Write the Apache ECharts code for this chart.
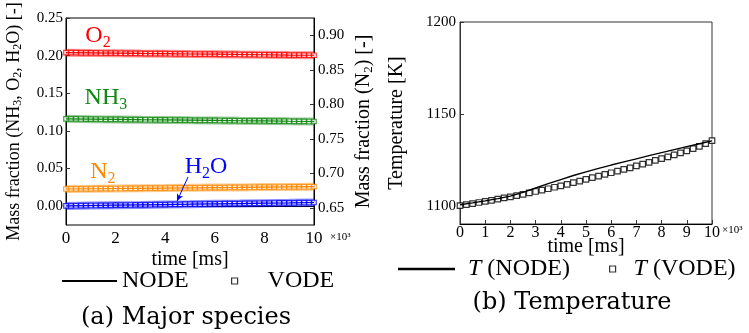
<!DOCTYPE html>
<html><head><meta charset="utf-8">
<script src="https://cdn.jsdelivr.net/npm/echarts@6/dist/echarts.min.js"></script>
<style>html,body{margin:0;padding:0;background:#fff}#c{width:749px;height:333px}</style>
</head><body><div id="c"></div>
<script>
// ---- data ----
const speciesTime = [0,0.2,0.4,0.6,0.8,1,1.2,1.4,1.6,1.8,2,2.2,2.4,2.6,2.8,3,3.2,3.4,3.6,3.8,4,4.2,4.4,4.6,4.8,5,5.2,5.4,5.6,5.8,6,6.2,6.4,6.6,6.8,7,7.2,7.4,7.6,7.8,8,8.2,8.4,8.6,8.8,9,9.2,9.4,9.6,9.8,10];
const nodeTime = [0,1,2,3,4,5,6,7,8,9,10];
const O2_VODE = [0.2040,0.2039,0.2039,0.2038,0.2037,0.2036,0.2036,0.2035,0.2034,0.2033,0.2033,0.2032,0.2031,0.2031,0.2030,0.2029,0.2028,0.2028,0.2027,0.2026,0.2026,0.2025,0.2024,0.2024,0.2023,0.2022,0.2021,0.2021,0.2020,0.2019,0.2019,0.2018,0.2017,0.2017,0.2016,0.2015,0.2014,0.2014,0.2013,0.2012,0.2012,0.2011,0.2010,0.2010,0.2009,0.2008,0.2007,0.2007,0.2006,0.2005,0.2005];
const NH3_VODE = [0.1160,0.1159,0.1159,0.1158,0.1157,0.1156,0.1156,0.1155,0.1154,0.1153,0.1153,0.1152,0.1151,0.1151,0.1150,0.1149,0.1148,0.1148,0.1147,0.1146,0.1146,0.1145,0.1144,0.1144,0.1143,0.1142,0.1141,0.1141,0.1140,0.1139,0.1139,0.1138,0.1137,0.1137,0.1136,0.1135,0.1134,0.1134,0.1133,0.1132,0.1132,0.1131,0.1130,0.1130,0.1129,0.1128,0.1127,0.1127,0.1126,0.1125,0.1125];
const N2_VODE = [0.6772,0.6773,0.6773,0.6774,0.6775,0.6775,0.6776,0.6777,0.6777,0.6778,0.6779,0.6779,0.6780,0.6781,0.6781,0.6782,0.6783,0.6783,0.6784,0.6785,0.6785,0.6786,0.6787,0.6787,0.6788,0.6789,0.6789,0.6790,0.6791,0.6791,0.6792,0.6793,0.6793,0.6794,0.6795,0.6795,0.6796,0.6797,0.6797,0.6798,0.6799,0.6799,0.6800,0.6801,0.6801,0.6802,0.6803,0.6803,0.6804,0.6804,0.6805];
const H2O_VODE = [0.0004,0.0005,0.0006,0.0007,0.0008,0.0009,0.0009,0.0010,0.0011,0.0012,0.0013,0.0014,0.0015,0.0016,0.0017,0.0017,0.0018,0.0019,0.0020,0.0021,0.0022,0.0023,0.0024,0.0025,0.0026,0.0026,0.0027,0.0028,0.0029,0.0030,0.0031,0.0032,0.0033,0.0034,0.0034,0.0035,0.0036,0.0037,0.0038,0.0039,0.0040,0.0041,0.0042,0.0043,0.0043,0.0044,0.0045,0.0046,0.0047,0.0048,0.0049];
const O2_NODE = [0.2040,0.2036,0.2033,0.2029,0.2026,0.2022,0.2019,0.2015,0.2012,0.2008,0.2005];
const NH3_NODE = [0.1160,0.1156,0.1153,0.1149,0.1146,0.1142,0.1139,0.1135,0.1132,0.1128,0.1125];
const N2_NODE = [0.6772,0.6775,0.6779,0.6782,0.6785,0.6789,0.6792,0.6795,0.6799,0.6802,0.6805];
const H2O_NODE = [0.0004,0.0009,0.0013,0.0017,0.0022,0.0026,0.0031,0.0035,0.0040,0.0044,0.0049];

const tempTimeVODE = [0,0.25,0.5,0.75,1,1.25,1.5,1.75,2,2.25,2.5,2.75,3,3.25,3.5,3.75,4,4.25,4.5,4.75,5,5.25,5.5,5.75,6,6.25,6.5,6.75,7,7.25,7.5,7.75,8,8.25,8.5,8.75,9,9.25,9.5,9.75,10];
const T_VODE = [1100.0,1100.5,1101.1,1101.7,1102.3,1102.9,1103.5,1104.2,1104.8,1105.4,1106.1,1106.9,1107.7,1108.4,1109.2,1110.0,1110.8,1111.6,1112.5,1113.4,1114.3,1115.2,1116.1,1117.0,1117.9,1118.8,1119.7,1120.6,1121.6,1122.6,1123.6,1124.6,1125.6,1126.6,1127.6,1128.7,1129.8,1131.0,1132.3,1133.8,1135.4];
const tempTimeNODE = [0,0.5,1,1.5,2,2.5,3,3.5,4,4.5,5,5.5,6,6.5,7,7.5,8,8.5,9,9.5,10];
const T_NODE = [1100.5,1101.5,1102.6,1103.8,1105.2,1107.2,1109.6,1112.0,1114.2,1116.4,1118.4,1120.3,1122.1,1123.8,1125.5,1127.2,1128.9,1130.5,1132.1,1133.7,1135.3];

// tick labels
const leftTicks = [0,0.05,0.10,0.15,0.20,0.25];
const rightTicks = [0.65,0.70,0.75,0.80,0.85,0.90];
const tempTicks = [1100,1150,1200];
const timeTicksA = [0,2,4,6,8,10];
const timeTicksB = [0,1,2,3,4,5,6,7,8,9,10];

const speciesLabels = [
  {key:'O2', text:'{n|O}{s|2}', axis:0, at:[1.29,0.2261]},
  {key:'NH3', text:'{n|NH}{s|3}', axis:0, at:[1.61,0.1437]},
  {key:'N2', text:'{n|N}{s|2}', axis:1, at:[1.49,0.7018]},
  {key:'H2O', text:'{n|H}{s|2}{n|O}', axis:0, at:[5.65,0.0521]}
];

const colors = {O2:'#ff0000', NH3:'#118811', N2:'#ff8800', H2O:'#0000ff'};

// ---- helpers ----
const pair = (xs, ys) => xs.map((x,i)=>[x, ys[i]]);
const FONT = 'Liberation Serif';
const subRichFill = (size, color) => ({
  n:{fontSize:size, fill:color, fontFamily:FONT},
  s:{fontSize:Math.round(size*0.68), fill:color, fontFamily:FONT, padding:[Math.round(size*0.55),0,0,0]}
});

function speciesSeries(key, nodeY, vodeY, yIdx, extra){
  const c = colors[key];
  const arr = [];
  arr.push({type:'line', name:'NODE', xAxisIndex:0, yAxisIndex:yIdx, data:pair(nodeTime,nodeY),
    symbol:'none', lineStyle:{color:c, width:1.2}, itemStyle:{color:c}, z:4, silent:true, animation:false});
  const sc = {type:'scatter', name:'VODE', xAxisIndex:0, yAxisIndex:yIdx, data:pair(speciesTime,vodeY),
    symbol:'rect', symbolSize:4.5, itemStyle:{color:'#fff', borderColor:c, borderWidth:1.2}, z:3, silent:true, animation:false};
  if (extra) Object.assign(sc, extra);
  arr.push(sc);
  arr.push({type:'line', name:'NODE', xAxisIndex:0, yAxisIndex:yIdx, data:pair(nodeTime,nodeY),
    symbol:'none', lineStyle:{color:c, width:8, opacity:0.45}, z:2, silent:true, animation:false});
  return arr;
}

const series = [].concat(
  speciesSeries('O2', O2_NODE, O2_VODE, 0),
  speciesSeries('NH3', NH3_NODE, NH3_VODE, 0),
  speciesSeries('N2', N2_NODE, N2_VODE, 1),
  speciesSeries('H2O', H2O_NODE, H2O_VODE, 0, {
    markLine:{silent:true, animation:false, symbol:['none','arrow'], symbolSize:[5,7],
      lineStyle:{color:colors.H2O, width:1, type:'solid'}, label:{show:false},
      data:[[{coord:[4.92,0.0388]},{coord:[4.48,0.0069]}]]}
  }),
  [
    {type:'line', name:'T (NODE)', xAxisIndex:1, yAxisIndex:2, data:pair(tempTimeNODE,T_NODE),
      symbol:'none', lineStyle:{color:'#000', width:1.4}, itemStyle:{color:'#000'}, z:4, silent:true, animation:false},
    {type:'scatter', name:'T (VODE)', xAxisIndex:1, yAxisIndex:2, data:pair(tempTimeVODE,T_VODE),
      symbol:'rect', symbolSize:5.5, itemStyle:{color:'#fff', borderColor:'#000', borderWidth:1.2}, z:3, silent:true, animation:false}
  ]
);

const axisCommon = {
  axisLine:{show:true, lineStyle:{color:'#000', width:1}},
  axisTick:{show:true, inside:true, length:4, lineStyle:{color:'#333'}},
  axisLabel:{show:false},
  splitLine:{show:false}
};
const lineIcon = 'path://M0 0H100V4H0Z';
const nameStyle = (size) => ({fontSize:size, color:'#000', fontFamily:FONT});

const option = {
  animation:false,
  textStyle:{fontFamily:FONT},
  grid:[
    {left:66, right:435, top:18, bottom:108, show:true, borderColor:'#000', borderWidth:1},
    {left:460, right:37, top:22, bottom:109, show:true, borderColor:'#333', borderWidth:1}
  ],
  xAxis:[
    Object.assign({}, axisCommon, {gridIndex:0, type:'value', min:0, max:10, interval:2,
      name:'time [ms]', nameLocation:'middle', nameGap:25, nameMoveOverlap:false, nameTextStyle:nameStyle(20)}),
    Object.assign({}, axisCommon, {gridIndex:1, type:'value', min:0, max:10, interval:1,
      name:'time [ms]', nameLocation:'middle', nameGap:13, nameMoveOverlap:false, nameTextStyle:nameStyle(20)})
  ],
  yAxis:[
    Object.assign({}, axisCommon, {gridIndex:0, type:'value', min:-0.025, max:0.25, position:'left',
      axisTick:{show:true, inside:true, length:4, customValues:leftTicks, lineStyle:{color:'#333'}},
      name:'Mass fraction (NH{s|3}, O{s|2}, H{s|2}O) [-]', nameLocation:'middle', nameRotate:90, nameGap:42, nameMoveOverlap:false,
      nameTextStyle:Object.assign(nameStyle(18), {rich:{s:{fontSize:12, color:'#000', fontFamily:FONT, padding:[8,0,0,0]}}})}),
    Object.assign({}, axisCommon, {gridIndex:0, type:'value', min:0.625, max:0.925, position:'right',
      axisTick:{show:true, inside:true, length:4, customValues:rightTicks, lineStyle:{color:'#333'}},
      name:'Mass fraction (N{s|2}) [-]', nameLocation:'middle', nameRotate:90, nameGap:39, nameMoveOverlap:false,
      nameTextStyle:Object.assign(nameStyle(20), {rich:{s:{fontSize:13, color:'#000', fontFamily:FONT, padding:[9,0,0,0]}}})}),
    Object.assign({}, axisCommon, {gridIndex:1, type:'value', min:1090, max:1200,
      axisLine:{show:true, lineStyle:{color:'#333', width:1}},
      axisTick:{show:true, inside:true, length:4, customValues:tempTicks, lineStyle:{color:'#333'}},
      name:'Temperature [K]', nameLocation:'middle', nameRotate:90, nameGap:53, nameMoveOverlap:false,
      nameTextStyle:nameStyle(20)})
  ],
  legend:[
    {data:[{name:'NODE', icon:lineIcon, itemStyle:{color:'#000'}}],
      left:57, top:264, itemWidth:55, itemHeight:6, selectedMode:false,
      textStyle:{fontSize:24, color:'#000', fontFamily:FONT}},
    {data:[{name:'VODE', itemStyle:{color:'#fff', borderColor:'#000', borderWidth:1.2}}],
      left:226, top:264, itemWidth:6, itemHeight:6, selectedMode:false,
      formatter:n=>'{p|'+n+'}',
      textStyle:{fontSize:24, color:'#000', fontFamily:FONT, rich:{p:{fontSize:24, fontFamily:FONT, color:'#000', padding:[0,0,0,25]}}}},
    {data:[{name:'T (NODE)', icon:lineIcon, itemStyle:{color:'#000'}}],
      left:393, top:252, itemWidth:57, itemHeight:6, selectedMode:false,
      formatter:n=>'{i|T}{p| '+n.slice(2)+'}',
      textStyle:{fontSize:24, color:'#000', fontFamily:FONT, rich:{
        i:{fontSize:24, fontStyle:'italic', fontFamily:FONT, color:'#000', padding:[0,0,0,8]},
        p:{fontSize:24, fontFamily:FONT, color:'#000'}}}},
    {data:[{name:'T (VODE)', itemStyle:{color:'#fff', borderColor:'#000', borderWidth:1.2}}],
      left:604, top:252, itemWidth:6, itemHeight:6, selectedMode:false,
      formatter:n=>'{i|T}{p| '+n.slice(2)+'}',
      textStyle:{fontSize:24, color:'#000', fontFamily:FONT, rich:{
        i:{fontSize:24, fontStyle:'italic', fontFamily:FONT, color:'#000', padding:[0,0,0,13]},
        p:{fontSize:24, fontFamily:FONT, color:'#000'}}}}
  ],
  graphic:[
    {type:'text', left:330, top:232, style:{text:'×10³', fontSize:11, fontFamily:FONT, fill:'#000'}},
    {type:'text', left:722, top:225, style:{text:'×10³', fontSize:11, fontFamily:FONT, fill:'#000'}},
    {type:'text', x:186, y:318, style:{text:'(a) Major species', fontSize:24, fontFamily:'DejaVu Serif', fill:'#000', align:'center', verticalAlign:'middle'}},
    {type:'text', x:572, y:303, style:{text:'(b) Temperature', fontSize:24, fontFamily:'DejaVu Serif', fill:'#000', align:'center', verticalAlign:'middle'}}
  ],
  series:series
};
const chart = echarts.init(document.getElementById('c'), null, {renderer:'canvas'});
chart.setOption(option);

// text placed through the axes' own scales (serif face)
const txt = (p, text, size, align, vAlign, dx, dy) => ({type:'text', x:p[0]+dx, y:p[1]+dy, z:10,
  style:{text:text, fontSize:size, fontFamily:FONT, fill:'#000', align:align, verticalAlign:vAlign}});
const extra = [];
leftTicks.forEach(v => extra.push(txt(chart.convertToPixel({xAxisIndex:0, yAxisIndex:0}, [0, v]), v.toFixed(2), 15, 'right', 'middle', -3, 0)));
rightTicks.forEach(v => extra.push(txt(chart.convertToPixel({xAxisIndex:0, yAxisIndex:1}, [10, v]), v.toFixed(2), 15, 'left', 'middle', 4, 0)));
timeTicksA.forEach(v => extra.push(txt(chart.convertToPixel({xAxisIndex:0, yAxisIndex:0}, [v, -0.025]), String(v), 17, 'center', 'top', 0, 5)));
timeTicksB.forEach(v => extra.push(txt(chart.convertToPixel({xAxisIndex:1, yAxisIndex:2}, [v, 1090]), String(v), 16, 'center', 'top', 0, 1)));
tempTicks.forEach(v => extra.push(txt(chart.convertToPixel({xAxisIndex:1, yAxisIndex:2}, [0, v]), String(v), 15, 'right', 'middle', -4, 0)));
speciesLabels.forEach(L => {
  const p = chart.convertToPixel({xAxisIndex:0, yAxisIndex:L.axis}, L.at);
  extra.push({type:'text', x:p[0], y:p[1], z:10,
    style:{text:L.text, align:'center', verticalAlign:'middle', fill:colors[L.key], rich:subRichFill(24, colors[L.key])}});
});
chart.setOption({graphic: option.graphic.concat(extra)});
</script></body></html>
